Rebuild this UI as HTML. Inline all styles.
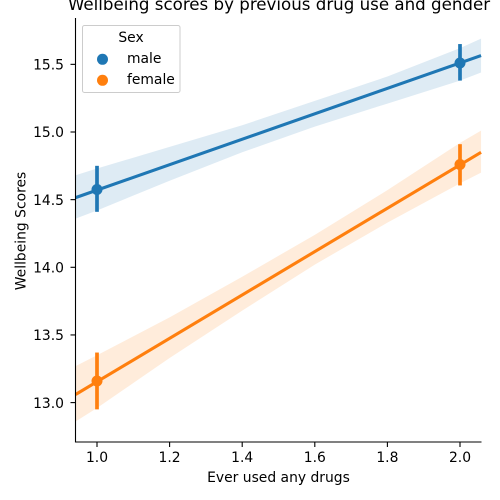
<!DOCTYPE html>
<html>
<head>
<meta charset="utf-8">
<style>
html,body{margin:0;padding:0;background:#fff;}
svg{display:block;}
text{font-family:"DejaVu Sans","Liberation Sans",sans-serif;fill:#000;}
</style>
</head>
<body>
<svg id="chart" xmlns="http://www.w3.org/2000/svg" width="500" height="500" viewBox="0 0 500 500">
  <rect x="0" y="0" width="500" height="500" fill="#fff"/>
  <g id="bands"></g>
  <g id="lines"></g>
  <g id="points"></g>
  <g id="axes"></g>
  <text x="279" y="10" font-size="16.67" text-anchor="middle">Wellbeing scores by previous drug use and gender</text>
  <text x="278.5" y="482" font-size="13.89" text-anchor="middle">Ever used any drugs</text>
  <text transform="translate(25.5 231) rotate(-90)" font-size="13.89" text-anchor="middle">Wellbeing Scores</text>
  <g>
    <rect x="82.5" y="25.5" width="97.5" height="67" rx="2" ry="2" fill="#fff" fill-opacity="0.8" stroke="#cccccc" stroke-width="1"/>
    <text x="131" y="42" font-size="13.89" text-anchor="middle">Sex</text>
    <circle cx="102.5" cy="59.3" r="5.5" fill="#1f77b4"/>
    <text x="127" y="63" font-size="13.89">male</text>
    <circle cx="102.5" cy="80.3" r="5.5" fill="#ff7f0e"/>
    <text x="127" y="84" font-size="13.89">female</text>
  </g>
</svg>
<script>
var xTicks = [1.0, 1.2, 1.4, 1.6, 1.8, 2.0];
var yTicks = [13.0, 13.5, 14.0, 14.5, 15.0, 15.5];
var xTickLabels = ["1.0", "1.2", "1.4", "1.6", "1.8", "2.0"];
var yTickLabels = ["13.0", "13.5", "14.0", "14.5", "15.0", "15.5"];
var lineEnds = [0.941, 2.058];
var pointX = [1, 2];
var bandX = [0.941, 1.0, 1.2, 1.4, 1.6, 1.8, 2.0, 2.058];

var maleLine = [14.515, 15.565];
var maleMean = [14.575, 15.51];
var maleCiLow = [14.41, 15.38];
var maleCiHigh = [14.75, 15.65];
var maleBandHigh = [14.68, 14.73, 14.89, 15.05, 15.23, 15.41, 15.62, 15.69];
var maleBandLow = [14.36, 14.42, 14.64, 14.85, 15.04, 15.21, 15.38, 15.44];

var femaleLine = [13.06, 14.85];
var femaleMean = [13.16, 14.76];
var femaleCiLow = [12.95, 14.605];
var femaleCiHigh = [13.37, 14.91];
var femaleBandHigh = [13.27, 13.35, 13.63, 13.93, 14.24, 14.57, 14.92, 15.01];
var femaleBandLow = [12.86, 12.96, 13.33, 13.68, 14.02, 14.33, 14.62, 14.70];

var NS = "http://www.w3.org/2000/svg";
function xScale(v) { return 97 + (v - 1) * 363; }
function yScale(v) { return 402.6 - (v - 13) * 135.3; }
function make(tag, parent, attrs) {
  var el = document.createElementNS(NS, tag);
  for (var k in attrs) { el.setAttribute(k, attrs[k]); }
  parent.appendChild(el);
  return el;
}
function drawSeries(key, color, line, mean, low, high, bandHigh, bandLow) {
  var pts = [];
  for (var i = 0; i < bandX.length; i++) { pts.push(xScale(bandX[i]) + "," + yScale(bandHigh[i])); }
  for (var j = bandX.length - 1; j >= 0; j--) { pts.push(xScale(bandX[j]) + "," + yScale(bandLow[j])); }
  var band = make("polygon", document.getElementById("bands"), { points: pts.join(" "), fill: color, "fill-opacity": 0.15 });
  
  
  band.setAttribute('data-series', key);

  var reg = make("line", document.getElementById("lines"), {
    x1: xScale(lineEnds[0]), y1: yScale(line[0]), x2: xScale(lineEnds[1]), y2: yScale(line[1]),
    stroke: color, "stroke-width": 3.1
  });
  
  
  reg.setAttribute('data-series', key);

  for (var p = 0; p < pointX.length; p++) {
    var err = make("line", document.getElementById("points"), {
      x1: xScale(pointX[p]), y1: yScale(low[p]), x2: xScale(pointX[p]), y2: yScale(high[p]),
      stroke: color, "stroke-width": 3.7
    });
    
    
    err.setAttribute('data-series', key);

    var dot = make("circle", document.getElementById("points"), {
      cx: xScale(pointX[p]), cy: yScale(mean[p]), r: 5.5, fill: color
    });
    
    
    dot.setAttribute('data-series', key);
  }
}
drawSeries("male", "#1f77b4", maleLine, maleMean, maleCiLow, maleCiHigh, maleBandHigh, maleBandLow);
drawSeries("female", "#ff7f0e", femaleLine, femaleMean, femaleCiLow, femaleCiHigh, femaleBandHigh, femaleBandLow);

var axes = document.getElementById("axes");
var ySpine = make("line", axes, { x1: 75.5, y1: 18, x2: 75.5, y2: 442.5, stroke: "#000", "stroke-width": 1.1 });


var xSpine = make("line", axes, { x1: 75, y1: 442, x2: 481.5, y2: 442, stroke: "#000", "stroke-width": 1.1 });



for (var i = 0; i < xTicks.length; i++) {
  var xt = make("line", axes, { x1: xScale(xTicks[i]), y1: 442, x2: xScale(xTicks[i]), y2: 447, stroke: "#000", "stroke-width": 1.1 });
  
  
  var xl = make("text", axes, { x: xScale(xTicks[i]), y: 462, "font-size": 13.89, "text-anchor": "middle" });
  xl.textContent = xTickLabels[i];
  
  
}
for (var j = 0; j < yTicks.length; j++) {
  var yt = make("line", axes, { x1: 70.5, y1: yScale(yTicks[j]), x2: 75.5, y2: yScale(yTicks[j]), stroke: "#000", "stroke-width": 1.1 });
  
  
  var yl = make("text", axes, { x: 64, y: yScale(yTicks[j]) + 5.2, "font-size": 13.89, "text-anchor": "end" });
  yl.textContent = yTickLabels[j];
  
  
}
</script>
</body>
</html>
